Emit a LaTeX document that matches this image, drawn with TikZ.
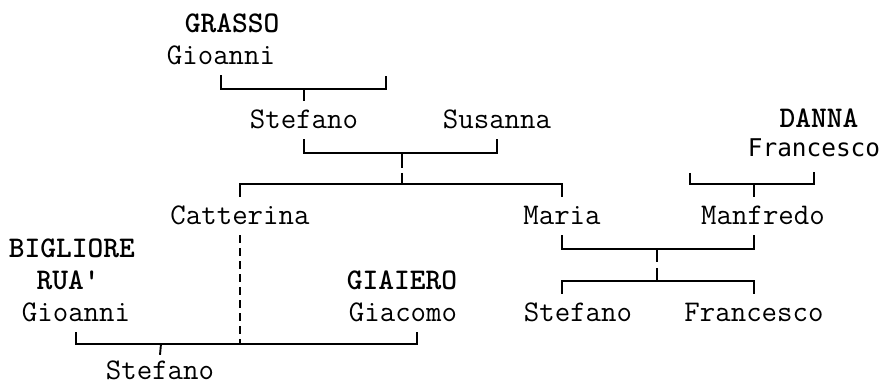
\documentclass[tikz,border=0pt]{standalone}
\usepackage{fontspec}
\newfontfamily\monosans{DejaVu Sans Mono}
\usetikzlibrary{calc}

\begin{document}
\begin{tikzpicture}[x=1pt, y=-1pt,
    every node/.style={font=\fontsize{30}{30}\selectfont\ttfamily, anchor=base, inner sep=0pt},
    person/.style={text height=18pt, text depth=0pt, inner ysep=10pt},
    surname/.style={font=\fontsize{30}{30}\selectfont\ttfamily\bfseries},
    tree/.style={line width=1.9pt},
    link/.style={tree, dash pattern=on 8pt off 5pt}]
    \useasboundingbox (0,0) rectangle (892,387);

    % GRASSO line
    \node[surname] (grasso) at (232,33) {GRASSO};
    \node[person] (gioanniG) at (221,65) {Gioanni};
    \node[person] (stefanoG) at (304,129) {Stefano};
    \node[person] (susanna) at (497,129) {Susanna};
    \node[person] (catterina) at (240,225) {Catterina};
    \node[person] (maria) at (562,225) {Maria};

    % DANNA line
    \node[surname] (danna) at (819,128) {DANNA};
    \node[person, font=\fontsize{24.4}{24.4}\selectfont\monosans, inner ysep=15pt] (francescoD) at (814,157) {Francesco};
    \node[person] (manfredo) at (763,225) {Manfredo};
    \node[person] (stefanoM) at (578,322) {Stefano};
    \node[person] (francescoM) at (754,322) {Francesco};

    % BIGLIORE / GIAIERO
    \node[surname] (bigliore) at (72,258) {BIGLIORE};
    \node[surname] (rua) at (68,290) {RUA'};
    \node[person] (gioanniB) at (76,322) {Gioanni};
    \node[surname] (giaiero) at (402,290) {GIAIERO};
    \node[person] (giacomo) at (403,322) {Giacomo};
    \node[person, inner ysep=7pt] (stefanoC) at (160,380) {Stefano};

    % brackets
    \coordinate (kidsG) at (304,89);
    \coordinate (wifeG) at (386,76);
    \draw[tree] (gioanniG.south) |- (kidsG) -| (wifeG);
    \draw[tree] (kidsG) -- (stefanoG.north);

    \coordinate (kidsS) at (402,153);
    \coordinate (barS) at (402,184);
    \draw[tree] (stefanoG.south) |- (kidsS) -| (susanna.south);
    \draw[tree, dash pattern=on 15pt off 5pt] (kidsS) -- (barS);
    \draw[tree] (catterina.north) |- (barS) -| (maria.north);

    \coordinate (kidsD) at (754,184);
    \coordinate (wifeD) at (690,173);
    \draw[tree] (wifeD) |- (kidsD) -| (francescoD.south);
    \draw[tree] (kidsD) -- (kidsD |- manfredo.north);

    \coordinate (kidsM) at (657,249);
    \coordinate (barM) at (657,281);
    \draw[tree] (maria.south) |- (kidsM) -| (kidsD |- manfredo.south);
    \draw[tree, dash pattern=on 13pt off 6pt] (kidsM) -- (barM);
    \draw[tree] (maria |- stefanoM.north) |- (barM) -| (francescoM.north);

    \coordinate (kidsC) at (161,344);
    \draw[tree] (gioanniB.south) |- (kidsC) -| ($(giacomo.south)+(14,0)$);
    \draw[tree] (kidsC) -- (stefanoC.north);
    \draw[link] (catterina.south) -- (catterina |- kidsC);
\end{tikzpicture}
\end{document}
